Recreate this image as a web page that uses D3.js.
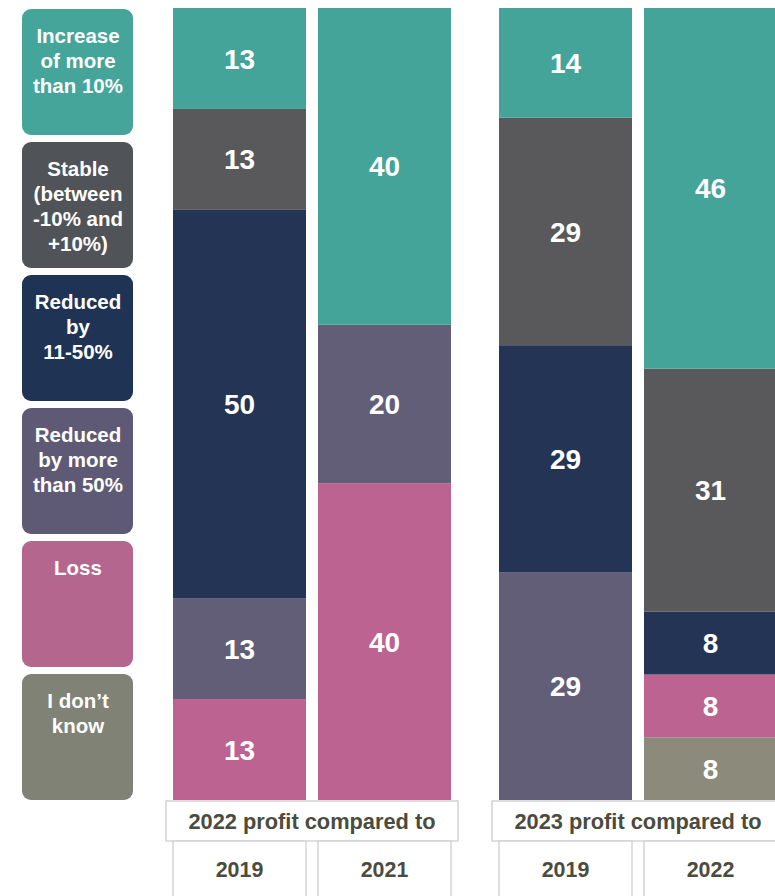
<!DOCTYPE html>
<html>
<head>
<meta charset="utf-8">
<script src="https://cdn.jsdelivr.net/npm/d3@7"></script>
<style>
  html, body { margin: 0; padding: 0; background: #fff; overflow: hidden; }
  svg { display: block; font-family: "Liberation Sans", Arial, Helvetica, sans-serif; }
</style>
</head>
<body>
<div id="chart"></div>
<script>
// Answer categories, top of each bar to bottom
const categories = ["increase", "stable", "reduced1150", "reducedOver50", "loss", "dontKnow"];
const legendLines = [
  ["Increase", "of more", "than 10%"],
  ["Stable", "(between", "-10% and", "+10%)"],
  ["Reduced", "by", "11-50%"],
  ["Reduced", "by more", "than 50%"],
  ["Loss"],
  ["I don\u2019t", "know"]
];
const barColors    = ["#45a49a", "#59595b", "#243455", "#635e78", "#bc6392", "#8b8a7b"];
const legendColors = ["#45a59a", "#505358", "#1f3354", "#5e5a75", "#b5668f", "#7f8274"];

// Comparison groups and the base years inside each
const groups = ["2022 profit compared to", "2023 profit compared to"];
const years = [["2019", "2021"], ["2019", "2022"]];

// Share of respondents (%) per bar: [2022 vs 2019, 2022 vs 2021, 2023 vs 2019, 2023 vs 2022]
const increase      = [13, 40, 14, 46];
const stable        = [13, 0, 29, 31];
const reduced1150   = [50, 0, 29, 8];
const reducedOver50 = [13, 20, 29, 0];
const loss          = [13, 40, 0, 8];
const dontKnow      = [0, 0, 0, 8];

const seriesByKey = { increase, stable, reduced1150, reducedOver50, loss, dontKnow };

const W = 775, H = 896;
const svg = d3.select("#chart").append("svg").attr("width", W).attr("height", H);

// Rows for the stack, one per bar
const rows = [];
groups.forEach((g, gi) => years[gi].forEach((y, yi) => {
  const idx = gi * 2 + yi;
  const row = { group: g, year: y, id: g + "|" + y };
  categories.forEach(k => row[k] = seriesByKey[k][idx]);
  rows.push(row);
}));

// Bottom-up stacking: last category sits at the bottom
const stack = d3.stack().keys(categories.slice().reverse()).offset(d3.stackOffsetExpand);
const stacked = stack(rows);

const x0 = d3.scaleBand().domain(groups).range([173, 777]).paddingInner(48 / 326);
const x1 = d3.scaleBand().domain([0, 1]).range([0, x0.bandwidth()]).paddingInner(12 / 145);
const y = d3.scaleLinear().domain([0, 1]).range([800, 8]);
const color = d3.scaleOrdinal().domain(categories).range(barColors);

const barX = d => x0(d.data.group) + x1(years[groups.indexOf(d.data.group)].indexOf(d.data.year));

const layer = svg.append("g").selectAll("g").data(stacked).join("g")
  .attr("fill", s => color(s.key));

layer.selectAll("rect").data(s => s).join("rect")
  .attr("x", barX)
  .attr("width", x1.bandwidth())
  .attr("y", d => y(d[1]))
  .attr("height", d => y(d[0]) - y(d[1]));

// Value labels inside segments
svg.append("g").selectAll("g").data(stacked).join("g")
  .selectAll("text").data(s => s.map(d => Object.assign(d, { key: s.key })).filter(d => d.data[s.key] > 0))
  .join("text")
  .attr("x", d => barX(d) + x1.bandwidth() / 2)
  .attr("y", d => (y(d[0]) + y(d[1])) / 2)
  .attr("dy", "0.36em")
  .attr("text-anchor", "middle")
  .attr("fill", "#fff")
  .attr("font-weight", "bold")
  .attr("font-size", 28)
  .text(d => d.data[d.key]);

// Legend column of rounded tiles
const legend = svg.append("g");
const tileY = d3.scaleBand().domain(categories).range([9, 800]).paddingInner(7 / 133);
const tiles = legend.selectAll("g").data(categories).join("g")
  .attr("transform", k => `translate(22,${tileY(k)})`);
tiles.append("rect")
  .attr("width", 111)
  .attr("height", tileY.bandwidth())
  .attr("rx", 9)
  .attr("fill", (k, i) => legendColors[i]);
tiles.append("text")
  .attr("text-anchor", "middle")
  .attr("fill", "#fff")
  .attr("font-weight", "bold")
  .attr("font-size", 20.5)
  .selectAll("tspan").data((k, i) => legendLines[i]).join("tspan")
  .attr("x", 56)
  .attr("y", (t, j) => 34 + j * 25)
  .text(t => t);

// Category axis: group header boxes and year cells
const axisColor = "#4b4b3e";
const lineColor = "#d4d4d4";
const axis = svg.append("g");
groups.forEach((g, gi) => {
  axis.append("rect")
    .attr("x", x0(g) - 7)
    .attr("y", 801)
    .attr("width", x0.bandwidth() + 14)
    .attr("height", 40)
    .attr("fill", "#fff")
    .attr("stroke", lineColor)
    .attr("stroke-width", 1.5);
  axis.append("text")
    .attr("x", x0(g) + x0.bandwidth() / 2)
    .attr("y", 821)
    .attr("dy", "0.36em")
    .attr("text-anchor", "middle")
    .attr("fill", axisColor)
    .attr("font-weight", "bold")
    .attr("font-size", 21.8)
    .text(g);
  years[gi].forEach((yr, yi) => {
    axis.append("rect")
      .attr("x", x0(g) + x1(yi))
      .attr("y", 841)
      .attr("width", x1.bandwidth())
      .attr("height", 80)
      .attr("fill", "#fff")
      .attr("stroke", lineColor)
      .attr("stroke-width", 1.5);
    axis.append("text")
      .attr("x", x0(g) + x1(yi) + x1.bandwidth() / 2)
      .attr("y", 869)
      .attr("dy", "0.36em")
      .attr("text-anchor", "middle")
      .attr("fill", axisColor)
      .attr("font-weight", "bold")
      .attr("font-size", 21.4)
      .text(yr);
  });
});
</script>
</body>
</html>
